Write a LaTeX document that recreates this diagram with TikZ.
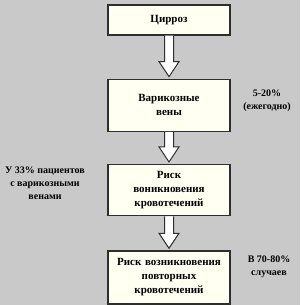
\documentclass[tikz,border=0pt]{standalone}
\usepackage{fontspec}
\setmainfont{Liberation Serif}
\usepackage{tikz}
\usetikzlibrary{positioning,calc}
\definecolor{Paper}{HTML}{C9C9C9}
\definecolor{Cream}{HTML}{FFFFF2}
\definecolor{Edge}{HTML}{2E2E2E}

\begin{document}
\begin{tikzpicture}[x=1pt,y=-1pt,
  stagebox/.style={draw=Edge,fill=Cream,line width=1.3pt,text width=118pt,inner sep=2pt,align=center,font=\fontsize{11}{14}\selectfont\bfseries},
  sidenote/.style={align=center,inner sep=0pt,font=\fontsize{10}{13}\selectfont\bfseries},
  fatarrow/.style={draw=Edge,fill=white,line width=1pt,line join=miter}
]
\fill[Paper] (0,0) rectangle (300,305);
\node[stagebox,minimum height=30pt] (cirr) at (169,20) {Цирроз};
\node[stagebox,minimum height=52pt,below=43pt of cirr] (vari) {Варикозные\\вены};
\node[stagebox,minimum height=51pt,below=32pt of vari] (risk) {Риск\\воникновения\\кровотечений};
\node[stagebox,minimum height=53pt,below=34pt of risk] (rept) {Риск возникновения\\повторных\\кровотечений};
\node[sidenote] (yearly) at (267,101) {5-20\%\\(ежегодно)};
\node[sidenote] (share) at (45,183) {У 33\% пациентов\\с варикозными\\венами};
\node[sidenote] (cases) at (269,267) {В 70-80\%\\случаев};
\draw[fatarrow] ($(cirr.south)+(-4.5,0)$) -- ($(vari.north)+(-4.5,-17)$) -- ($(vari.north)+(-10,-17)$) -- ($(vari.north)+(0,-2)$) -- ($(vari.north)+(10,-17)$) -- ($(vari.north)+(4.5,-17)$) -- ($(cirr.south)+(4.5,0)$);
\draw[fatarrow] ($(vari.south)+(-4.5,0)$) -- ($(risk.north)+(-4.5,-17)$) -- ($(risk.north)+(-10,-17)$) -- ($(risk.north)+(0,-2)$) -- ($(risk.north)+(10,-17)$) -- ($(risk.north)+(4.5,-17)$) -- ($(vari.south)+(4.5,0)$);
\draw[fatarrow] ($(risk.south)+(-4.5,0)$) -- ($(rept.north)+(-4.5,-17)$) -- ($(rept.north)+(-10,-17)$) -- ($(rept.north)+(0,-2)$) -- ($(rept.north)+(10,-17)$) -- ($(rept.north)+(4.5,-17)$) -- ($(risk.south)+(4.5,0)$);
\end{tikzpicture}
\end{document}
